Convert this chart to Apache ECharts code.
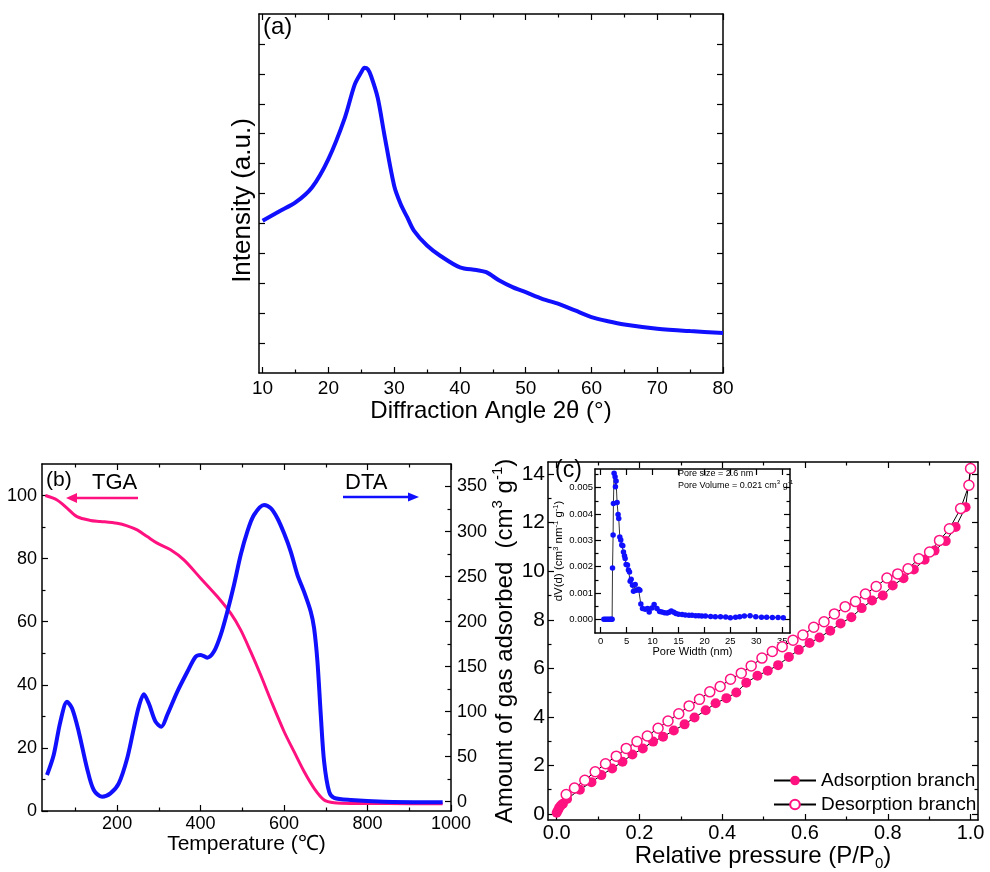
<!DOCTYPE html>
<html>
<head>
<meta charset="utf-8">
<script src="https://cdn.jsdelivr.net/npm/echarts@6/dist/echarts.min.js"></script>
<style>html,body{margin:0;padding:0;background:#fff}#chart{width:990px;height:872px}</style>
</head>
<body>
<div id="chart"></div>
<script>
// ---------- DATA ----------
// (a) XRD
const xrdAngle = [10,12.5,15,17.5,20,22.5,24,25,25.5,26,26.5,27.5,28.5,30,31,32,33,35,37,40,42.5,44,46,48,50,52.5,55,57.5,60,62.5,65,70,75,80];
const xrdIntensity = [5.09,5.4,5.7,6.2,7.15,8.53,9.64,10.05,10.2,10.15,9.92,9.2,7.98,6.26,5.64,5.2,4.76,4.26,3.92,3.53,3.44,3.37,3.09,2.87,2.7,2.48,2.31,2.09,1.87,1.73,1.62,1.48,1.4,1.34];
const xrdTicks = [10,20,30,40,50,60,70,80];

// (b) TGA / DTA
const tgaTemp = [28,56,80,104,136,160,200,224,248,272,296,328,360,400,440,472,496,520,544,568,600,624,648,672,696,720,760,800,900,980];
const tgaWeight = [100,98.6,96,93.3,92.1,91.8,91.2,90.4,89.1,87,84.9,82.8,79.6,73.8,68,62.7,57.4,50.5,43.1,35.2,25.2,18.8,12.5,7.2,3.5,2.6,2.4,2.4,2.3,2.3];
const dtaTemp = [32,48,64,80,92,108,128,144,164,184,204,224,240,252,264,276,292,306,320,344,368,388,400,416,432,448,464,480,496,512,528,552,568,584,600,616,632,648,664,672,680,688,696,708,720,760,840,980];
const dtaSignal = [29.6,51.9,88.9,111,103.7,77.8,37,13,5.6,9.3,20.4,48,81.5,105.6,119.3,109,88.9,83.3,96.3,122,144,161,163,160,166.7,185,211,240.7,274,300,318.5,329.6,326,314.8,298,277.8,252,233,211,192.6,155.6,96.3,44.4,11,4.4,1.9,0,-0.7];
const tempTicks = [200,400,600,800,1000];
const weightTicks = [0,20,40,60,80,100];
const dtaTicks = [0,50,100,150,200,250,300,350];

// (c) N2 isotherm
const adsP = [0.0,0.003,0.006,0.01,0.015,0.025,0.056,0.084,0.108,0.134,0.159,0.183,0.208,0.233,0.257,0.283,0.309,0.333,0.36,0.384,0.41,0.434,0.458,0.485,0.51,0.535,0.561,0.585,0.611,0.635,0.661,0.686,0.712,0.737,0.762,0.788,0.812,0.838,0.863,0.889,0.913,0.94,0.964,0.988,1.0];
const adsV = [0.05,0.15,0.25,0.35,0.42,0.62,1.0,1.31,1.6,1.87,2.15,2.45,2.7,2.98,3.18,3.44,3.69,3.97,4.27,4.56,4.77,5.0,5.41,5.69,5.9,6.13,6.47,6.76,7.04,7.27,7.55,7.85,8.1,8.48,8.79,9.0,9.41,9.71,10.07,10.47,10.85,11.24,11.82,12.64,14.23];
const desP = [1.0,0.996,0.976,0.949,0.925,0.901,0.875,0.849,0.824,0.798,0.772,0.746,0.722,0.697,0.671,0.646,0.621,0.595,0.571,0.545,0.521,0.496,0.47,0.446,0.42,0.395,0.37,0.345,0.32,0.295,0.269,0.245,0.219,0.194,0.168,0.144,0.118,0.093,0.068,0.043,0.023];
const desV = [14.23,13.54,12.58,11.75,11.27,10.79,10.51,10.1,9.89,9.72,9.37,9.06,8.75,8.54,8.24,7.92,7.69,7.37,7.16,6.89,6.69,6.42,6.1,5.8,5.55,5.25,5.03,4.72,4.45,4.13,3.83,3.53,3.21,2.98,2.7,2.38,2.07,1.74,1.39,1.07,0.8];
const pressureTicks = [0,0.2,0.4,0.6,0.8,1.0];
const amountTicks = [0,2,4,6,8,10,12,14];

// (c) inset: pore size distribution
const poreW = [0.6,0.9,1.2,1.5,1.8,2.05,2.2,2.28,2.39,2.45,2.58,2.77,2.84,2.97,3.16,3.35,3.48,3.68,3.87,4.06,4.26,4.39,4.58,4.71,4.9,5.16,5.35,5.55,5.68,5.87,6.13,6.32,6.65,6.9,7.3,7.55,7.74,8.06,8.58,9.03,9.35,9.87,10.3,10.84,11.35,11.8,12.3,12.8,13.2,13.6,14.1,14.5,15.0,15.7,16.3,17.0,17.6,18.3,18.9,19.5,20.2,21.2,22.1,23.1,24.1,25.0,26.0,26.8,27.7,28.8,29.9,31.0,32.0,33.1,34.2,35.2];
const poreDV = [0,0,0,0,0,0,0,0.00195,0.0032,0.0044,0.00555,0.00542,0.00504,0.00525,0.00444,0.00398,0.00383,0.00313,0.00301,0.00282,0.00279,0.00256,0.00241,0.00231,0.00208,0.00206,0.00187,0.0018,0.00145,0.00152,0.00129,0.00107,0.00132,0.0011,0.00114,0.0011,0.00058,0.00041,0.00038,0.00041,0.00028,0.00043,0.00056,0.00041,0.0003,0.00028,0.00025,0.00024,0.00027,0.00032,0.00027,0.00022,0.00019,0.00018,0.00016,0.00015,0.00015,0.00014,0.00014,0.00013,0.00013,0.00011,0.0001,0.0001,0.00009,0.00006,0.00008,0.0001,0.00013,0.00014,0.0001,0.00008,0.00008,0.00007,0.00007,0.00006];
const poreWTicks = [0,5,10,15,20,25,30,35];
const poreDVTicks = [0,0.001,0.002,0.003,0.004,0.005];

// ---------- STYLE / LAYOUT ----------
const FONT = '"Liberation Sans", Arial, Helvetica, sans-serif';
const PINK = '#ff1280';
const BLUE = '#1010ff';
const zip = (a, b) => a.map((v, i) => [v, b[i]]);
const mid = (t) => t.slice(0, -1).map((v, i) => +((v + t[i + 1]) / 2).toFixed(6));

const xAxes = [], yAxes = [];
function mk(o) {
  const a = {
    type: 'value', gridIndex: o.grid, position: o.pos, min: o.min, max: o.max,
    axisLine: { show: !!o.line, onZero: false, lineStyle: { color: '#000', width: 1.5 } },
    axisTick: { show: o.ticks.length > 0, inside: true, length: o.len, customValues: o.ticks, lineStyle: { color: '#000', width: 1.2 } },
    axisLabel: { show: false },
    splitLine: { show: false }
  };
  if (o.labels) {
    a.axisLabel = { show: true, customValues: o.labels, formatter: o.fmt, fontSize: o.fs, fontFamily: FONT, color: '#000', margin: o.margin };
  }
  if (o.name) {
    a.name = o.name; a.nameLocation = 'middle'; a.nameGap = o.nameGap;
    a.nameTextStyle = Object.assign({ fontFamily: FONT, color: '#000' }, o.nameStyle);
  }
  return a;
}
// push major axis + minor axis on a side; returns index of major axis
function side(list, o) {
  const idx = list.length;
  list.push(mk(Object.assign({}, o, { ticks: o.major, len: 6, line: true })));
  if (o.minor && o.minor.length) list.push(mk({ grid: o.grid, pos: o.pos, min: o.min, max: o.max, ticks: o.minor, len: 3.5 }));
  return idx;
}

// (a)
const aX = side(xAxes, { grid: 0, pos: 'bottom', min: 9.45, max: 80, major: xrdTicks, minor: mid(xrdTicks), labels: xrdTicks, fmt: v => String(v), fs: 19, margin: 6,
  name: 'Diffraction Angle 2θ (°)', nameGap: 21, nameStyle: { fontSize: 24 } });
side(xAxes, { grid: 0, pos: 'top', min: 9.45, max: 80, major: xrdTicks, minor: mid(xrdTicks) });
const aY = side(yAxes, { grid: 0, pos: 'left', min: 0, max: 12, major: [1,2,3,4,5,6,7,8,9,10,11], name: 'Intensity (a.u.)', nameGap: 3,
  nameStyle: { fontSize: 26, padding: [0, 14, 0, 0] } });
side(yAxes, { grid: 0, pos: 'right', min: 0, max: 12, major: [1,2,3,4,5,6,7,8,9,10,11] });

// (b)
const bX = side(xAxes, { grid: 1, pos: 'bottom', min: 20, max: 1000, major: tempTicks, minor: [100,300,500,700,900], labels: tempTicks, fmt: v => String(v), fs: 18, margin: 4,
  name: 'Temperature (℃)', nameGap: 21, nameStyle: { fontSize: 21 } });
side(xAxes, { grid: 1, pos: 'top', min: 20, max: 1000, major: tempTicks, minor: [100,300,500,700,900] });
const bY = side(yAxes, { grid: 1, pos: 'left', min: 0, max: 110, major: weightTicks, minor: mid(weightTicks), labels: weightTicks, fmt: v => String(v), fs: 18, margin: 5 });
const bY2 = side(yAxes, { grid: 1, pos: 'right', min: -10.3, max: 375, major: dtaTicks, minor: mid(dtaTicks), labels: dtaTicks, fmt: v => String(v), fs: 18, margin: 6 });

// (c)
const cX = side(xAxes, { grid: 2, pos: 'bottom', min: -0.021, max: 1.018, major: pressureTicks, minor: mid(pressureTicks), labels: pressureTicks, fmt: v => v.toFixed(1), fs: 20, margin: 3,
  name: '{t|Relative pressure (P/P}{s|0}{t|)}', nameGap: 15,
  nameStyle: { rich: { t: { fontSize: 24, fontFamily: FONT, color: '#000', lineHeight: 30, verticalAlign: 'middle' }, s: { fontSize: 15, fontFamily: FONT, color: '#000', verticalAlign: 'bottom' } } } });
side(xAxes, { grid: 2, pos: 'top', min: -0.021, max: 1.018, major: pressureTicks, minor: mid(pressureTicks) });
const cY = side(yAxes, { grid: 2, pos: 'left', min: -0.25, max: 14.5, major: amountTicks, minor: mid(amountTicks), labels: amountTicks, fmt: v => String(v), fs: 21, margin: 3,
  name: '{t|Amount of gas adsorbed  (cm}{p|3}{t| g}{p|-1}{t|)}', nameGap: 19,
  nameStyle: { rich: { t: { fontSize: 24, fontFamily: FONT, color: '#000', lineHeight: 30, verticalAlign: 'middle' }, p: { fontSize: 15, fontFamily: FONT, color: '#000', verticalAlign: 'top' } } } });
side(yAxes, { grid: 2, pos: 'right', min: -0.25, max: 14.5, major: amountTicks, minor: mid(amountTicks) });

// (c) inset
const iX = side(xAxes, { grid: 3, pos: 'bottom', min: -1.1, max: 36.5, major: poreWTicks, labels: poreWTicks, fmt: v => String(v), fs: 9.5, margin: 3,
  name: 'Pore Width (nm)', nameGap: 9, nameStyle: { fontSize: 11 } });
side(xAxes, { grid: 3, pos: 'top', min: -1.1, max: 36.5, major: poreWTicks });
const iY = side(yAxes, { grid: 3, pos: 'left', min: -0.00052, max: 0.00571, major: poreDVTicks, minor: [0.0005,0.0015,0.0025,0.0035,0.0045,0.0055], labels: poreDVTicks, fmt: v => v.toFixed(3), fs: 9.5, margin: 2,
  name: '{t|dV(d) (cm}{p|3}{t| nm}{p|-1}{t| g}{p|-1}{t|)}', nameGap: 20,
  nameStyle: { rich: { t: { fontSize: 11.5, fontFamily: FONT, color: '#000', lineHeight: 15, verticalAlign: 'middle' }, p: { fontSize: 7.5, fontFamily: FONT, color: '#000', verticalAlign: 'top' } } } });
side(yAxes, { grid: 3, pos: 'right', min: -0.00052, max: 0.00571, major: poreDVTicks, minor: [0.0005,0.0015,0.0025,0.0035,0.0045,0.0055] });

const option = {
  backgroundColor: '#fff',
  animation: false,
  grid: [
    { left: 259, top: 14, width: 464, height: 359 },
    { left: 42, top: 464, width: 409, height: 347 },
    { left: 548, top: 462, width: 430, height: 358 },
    { left: 595, top: 469, width: 195, height: 164 }
  ],
  xAxis: xAxes,
  yAxis: yAxes,
  legend: {
    orient: 'vertical', left: 773, top: 771, padding: 0, itemWidth: 42, itemHeight: 12, itemGap: 5,
    textStyle: { fontSize: 19, fontFamily: FONT, color: '#000' },
    data: ['Adsorption branch', 'Desorption branch']
  },
  series: [
    { name: 'XRD', type: 'line', xAxisIndex: aX, yAxisIndex: aY, data: zip(xrdAngle, xrdIntensity), showSymbol: false, smooth: 0.3,
      lineStyle: { color: BLUE, width: 4 } },
    { name: 'TGA', type: 'line', xAxisIndex: bX, yAxisIndex: bY, data: zip(tgaTemp, tgaWeight), showSymbol: false, smooth: 0.3, z: 2,
      lineStyle: { color: PINK, width: 3 } },
    { name: 'DTA', type: 'line', xAxisIndex: bX, yAxisIndex: bY2, data: zip(dtaTemp, dtaSignal), showSymbol: false, smooth: 0.3, z: 3,
      lineStyle: { color: BLUE, width: 4 } },
    { name: 'Adsorption branch', type: 'line', xAxisIndex: cX, yAxisIndex: cY, data: zip(adsP, adsV), symbol: 'circle', symbolSize: 10,
      itemStyle: { color: PINK }, lineStyle: { color: '#000', width: 1 } },
    { name: 'Desorption branch', type: 'line', xAxisIndex: cX, yAxisIndex: cY, data: zip(desP, desV), symbol: 'circle', symbolSize: 10,
      itemStyle: { color: '#fff', borderColor: PINK, borderWidth: 1.5 }, lineStyle: { color: '#000', width: 1 } },
    { name: 'PSD', type: 'line', xAxisIndex: iX, yAxisIndex: iY, data: zip(poreW, poreDV), symbol: 'circle', symbolSize: 5.5,
      itemStyle: { color: BLUE }, lineStyle: { color: '#000', width: 0.8 } }
  ],
  graphic: [
    { type: 'text', left: 263, top: 15, style: { text: '(a)', font: '24px ' + FONT, fill: '#000' } },
    { type: 'text', left: 46, top: 470, style: { text: '(b)', font: '21px ' + FONT, fill: '#000' } },
    { type: 'text', left: 92, top: 472, style: { text: 'TGA', font: '22px ' + FONT, fill: '#000' } },
    { type: 'text', left: 345, top: 472, style: { text: 'DTA', font: '22px ' + FONT, fill: '#000' } },
    { type: 'line', shape: { x1: 138, y1: 498, x2: 74, y2: 498 }, style: { stroke: PINK, lineWidth: 2.5 } },
    { type: 'polygon', shape: { points: [[66, 498], [77, 493], [77, 503]] }, style: { fill: PINK } },
    { type: 'line', shape: { x1: 343, y1: 497, x2: 410, y2: 497 }, style: { stroke: BLUE, lineWidth: 2.5 } },
    { type: 'polygon', shape: { points: [[419, 497], [408, 492.5], [408, 501.5]] }, style: { fill: BLUE } },
    { type: 'text', left: 555, top: 459, style: { text: '(c)', font: '23px ' + FONT, fill: '#000' } },
    { type: 'text', left: 678, top: 469, style: { text: 'Pore size = 2.6 nm', font: '9px ' + FONT, fill: '#000' } },
    { type: 'text', left: 678, top: 479, style: { text: '{t|Pore Volume = 0.021 cm}{p|3}{t| g}{p|-1}',
      rich: { t: { fontSize: 9, fontFamily: FONT, fill: '#000', lineHeight: 13, verticalAlign: 'middle' }, p: { fontSize: 6, fontFamily: FONT, fill: '#000', verticalAlign: 'top' } } } }
  ]
};
const chart = echarts.init(document.getElementById('chart'), null, { renderer: 'canvas' });
chart.setOption(option);
</script>
</body>
</html>
